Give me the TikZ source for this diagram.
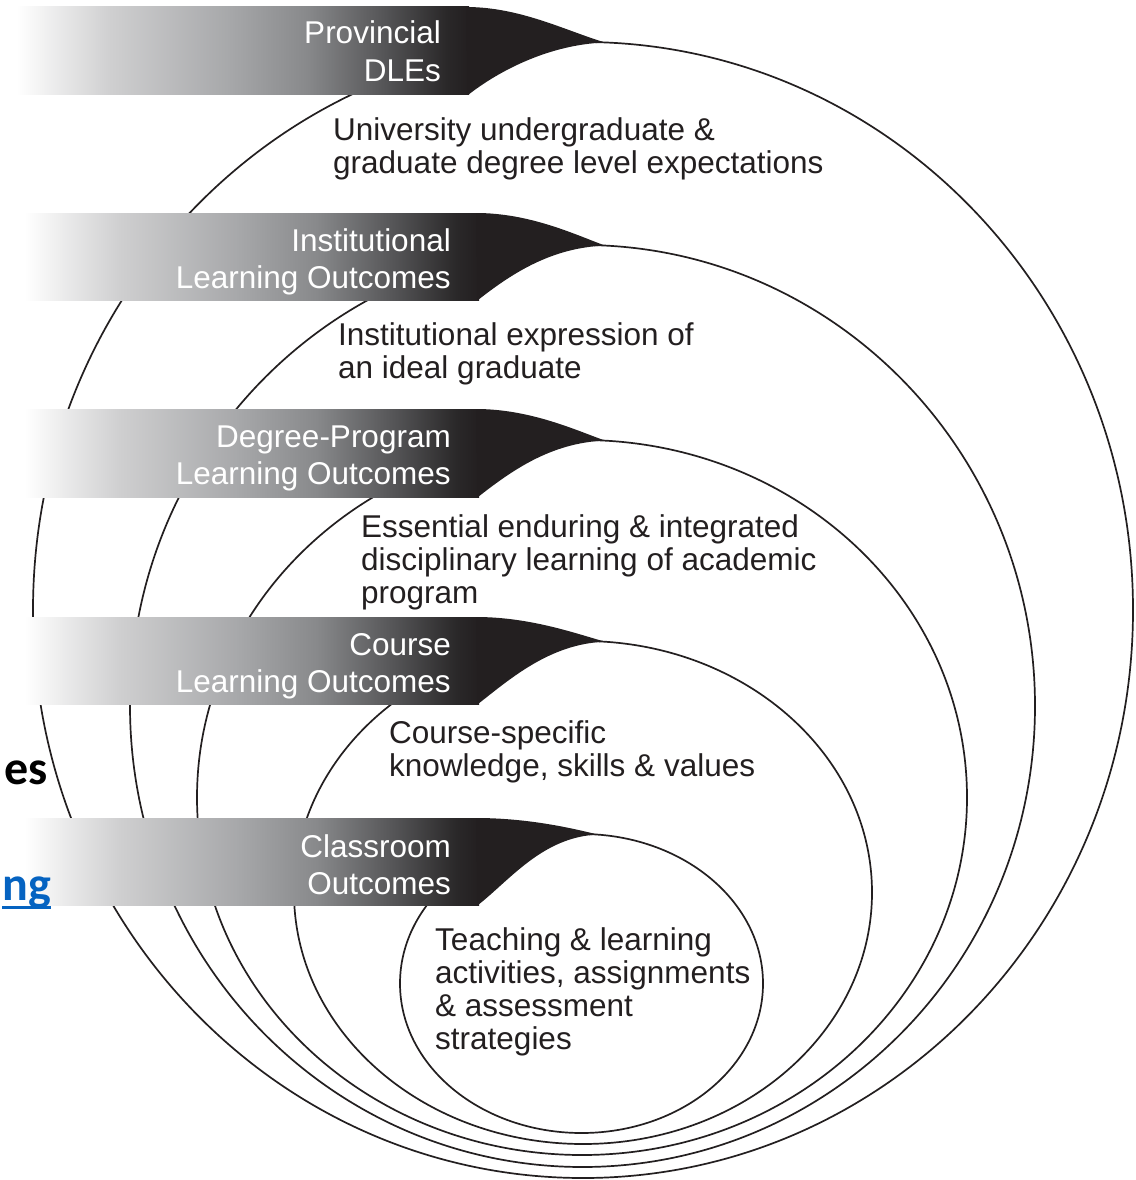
\documentclass[tikz,border=0pt]{standalone}
\usepackage{fontspec}
\setmainfont{Liberation Sans}
\newfontfamily\slidefont{Carlito}
\definecolor{ink}{HTML}{231F20}
\definecolor{shA}{HTML}{CFCFD0}
\definecolor{shB}{HTML}{A7A8AA}
\definecolor{shC}{HTML}{88898B}
\definecolor{shD}{HTML}{535355}
\definecolor{shE}{HTML}{2A2829}
\definecolor{linkblue}{HTML}{0563C1}
% fade of a banner: white on the left, near black on the right
\pgfdeclarehorizontalshading{bannerfade}{100bp}{color(0bp)=(white); color(25.5bp)=(white); color(35.8bp)=(shA); color(48.7bp)=(shB); color(57.3bp)=(shC); color(66bp)=(shD); color(72.5bp)=(shE); color(75bp)=(ink); color(100bp)=(ink)}

\begin{document}
\begin{tikzpicture}[x=1pt,y=-1pt,
  ring/.style={draw=ink, line width=1.7pt},
  bodytext/.style={anchor=base west, inner sep=0pt, text=ink, font=\fontsize{31.5}{33.3}\selectfont},
  bannertext/.style={anchor=base east, inner sep=0pt, text=white, font=\fontsize{31.5}{37.5}\selectfont},
  slidetext/.style={anchor=base east, inner sep=0pt, font=\slidefont\bfseries\fontsize{48}{54}\selectfont}]
\clip (0,0) rectangle (1135,1180);
\fill[white] (0,0) rectangle (1135,1180);

% nested levels
\draw[ring] (583,610) ellipse [x radius=550pt, y radius=568pt];
\draw[ring] (582.5,706) ellipse [x radius=452.5pt, y radius=461pt];
\draw[ring] (582,797.5) ellipse [x radius=385pt, y radius=357.5pt];
\draw[ring] (583,892.5) ellipse [x radius=289pt, y radius=251.5pt];
\draw[ring] (581.5,983.5) ellipse [x radius=181.5pt, y radius=149.5pt];

% banners: faded band plus a black tip ending on the top of its level
\foreach \L/\T/\B/\R/\Xt/\Yt in {12/7/95/466/605/42.5, 20/213/300/476/605/245.6, 20/409/497/476/605/440.6, 20/617/704/476/605/641.7, 20/818/905/476/598/834.6}{
  \shade[shading=bannerfade] (\L,\T) rectangle ({\R+3},\B);
  \fill[ink] (\R,\T) .. controls ({\R+54},\T) and ({\R+99},{\T+0.66*(\Yt-\T)}) .. (\Xt,\Yt)
    .. controls ({\Xt-55},{\Yt+2}) and ({\R+34},{\B-25}) .. ({\R+2},\B) -- cycle;
}

% banner titles
\node[bannertext] (prov) at (441,44) {\parbox[t]{400pt}{\raggedleft Provincial\\DLEs}};
\node[bannertext] (inst) at (451,251) {\parbox[t]{400pt}{\raggedleft Institutional\\Learning Outcomes}};
\node[bannertext] (prog) at (451,447) {\parbox[t]{400pt}{\raggedleft Degree-Program\\Learning Outcomes}};
\node[bannertext] (crs) at (451,655) {\parbox[t]{400pt}{\raggedleft Course\\Learning Outcomes}};
\node[bannertext] (cls) at (451,857) {\parbox[t]{400pt}{\raggedleft Classroom\\Outcomes}};

% descriptions inside each level
\node[bodytext] (provtext) at (333,140) {\parbox[t]{600pt}{University undergraduate \&\\graduate degree level expectations}};
\node[bodytext] (insttext) at (338,345) {\parbox[t]{600pt}{Institutional expression of\\an ideal graduate}};
\node[bodytext] (progtext) at (361,537) {\parbox[t]{600pt}{Essential enduring \& integrated\\disciplinary learning of academic\\program}};
\node[bodytext] (crstext) at (389,743) {\parbox[t]{600pt}{Course-specific\\knowledge, skills \& values}};
\node[bodytext] (clstext) at (435,950) {\parbox[t]{600pt}{Teaching \& learning\\activities, assignments\\\& assessment\\strategies}};

% fragments of slide text at the left edge, lying over the figure
\node[slidetext, text=black] (frag1) at (48,784) {es};
\node[slidetext, text=linkblue] (frag2) at (51,900) {ng};
\draw[linkblue, line width=3pt] ([yshift=-7.5pt]frag2.base west) -- ([yshift=-7.5pt]frag2.base east);
\end{tikzpicture}
\end{document}
